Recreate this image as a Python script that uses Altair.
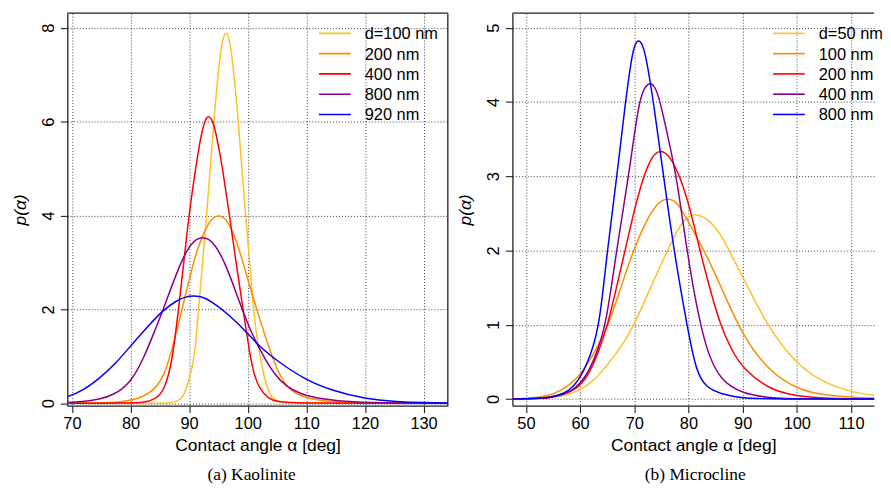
import altair as alt
import pandas as pd

# ---------------- Kaolinite (panel a) ----------------
kao_labels = ["d=100 nm", "200 nm", "400 nm", "800 nm", "920 nm"]
kao_colors = ["#FFC125", "#FF8C00", "#FF0000", "#8B008B", "#0000FF"]

kao_100_x = [69, 85, 87, 88, 89, 89.6, 90.3, 91.0, 91.6, 92.3, 93.0, 93.6, 94.2, 95.0, 95.6, 95.9, 96.3,
             96.7, 97.0, 97.6, 98.4, 99.0, 99.66, 100.3, 101.0, 101.5, 102.1, 103.2, 104.2, 105.5, 107, 134.5]
kao_100_y = [0, 0, 0.01, 0.04, 0.13, 0.35, 0.64, 1.05, 2.0, 3.0, 4.0, 5.0, 6.0, 7.1, 7.67, 7.83, 7.9,
             7.83, 7.67, 7.1, 6.0, 5.0, 4.0, 3.0, 2.0, 1.45, 1.0, 0.33, 0.1, 0.02, 0.0, 0]

kao_200_x = [69, 72, 76, 79, 81.4, 83, 84.5, 85.7, 86.8, 88.8, 90.7, 92.0, 93.5, 94.3, 95.0, 95.7, 96.5,
             98.0, 99.2, 101.5, 104.1, 105.3, 106.6, 108.3, 110.3, 115, 120, 134.5]
kao_200_y = [0.0, 0.003, 0.01, 0.04, 0.1, 0.2, 0.35, 0.6, 1.0, 2.0, 3.0, 3.5, 3.88, 3.97, 4.0, 3.97, 3.9,
             3.5, 3.0, 2.0, 1.0, 0.65, 0.35, 0.2, 0.1, 0.02, 0.0, 0]

kao_400_x = [69, 80, 82.5, 84, 85, 85.7, 86.5, 87.2, 88.2, 89.1, 89.95, 91.1, 92.0, 92.66, 92.9, 93.3,
             93.7, 94.13, 95.0, 95.7, 96.9, 98.0, 99.2, 100.4, 101.2, 102.1, 103.5, 105, 108, 134.5]
kao_400_y = [0, 0, 0.02, 0.08, 0.18, 0.3, 0.6, 1.0, 2.0, 3.0, 4.0, 5.0, 5.7, 6.0, 6.07, 6.12,
             6.07, 6.0, 5.5, 5.0, 4.0, 3.0, 2.0, 1.0, 0.55, 0.3, 0.1, 0.03, 0.0, 0]

kao_800_x = [68, 72, 74.7, 77, 80, 82.4, 84, 85.6, 88.5, 90.3, 91.3, 92.3, 93.3, 94.3, 96.2, 99.0, 101,
             102.7, 104.5, 106.6, 109, 112, 118, 125, 134.5]
kao_800_y = [0.01, 0.03, 0.085, 0.17, 0.42, 1.0, 1.5, 2.0, 3.0, 3.4, 3.5, 3.54, 3.5, 3.4, 3.0, 2.0, 1.4,
             1.0, 0.62, 0.35, 0.2, 0.1, 0.02, 0.005, 0]

kao_920_x = [68, 69.2, 72, 74.7, 77.5, 80, 82.7, 85.4, 88, 89.4, 90.7, 92.1, 93.5, 96.7, 100.1, 101.8,
             105.2, 110, 114.2, 120, 125.5, 130, 134.5]
kao_920_y = [0.11, 0.13, 0.28, 0.53, 0.85, 1.22, 1.6, 1.97, 2.2, 2.27, 2.29, 2.27, 2.2, 1.9, 1.48, 1.23,
             0.88, 0.49, 0.28, 0.09, 0.03, 0.012, 0.005]

kao_xticks = [70, 80, 90, 100, 110, 120, 130]
kao_yticks = [0, 2, 4, 6, 8]

# ---------------- Microcline (panel b) ----------------
mic_labels = ["d=50 nm", "100 nm", "200 nm", "400 nm", "800 nm"]
mic_colors = ["#FFC125", "#FF8C00", "#FF0000", "#8B008B", "#0000FF"]

mic_50_x = [47, 52, 56.5, 59.6, 62.7, 65.7, 68, 70.0, 73, 76.1, 78.5, 79.9, 81.2, 82.6, 84, 85.15, 86.4,
            87.2, 90.07, 95, 99.9, 104.1, 110.2, 117]
mic_50_y = [0.0, 0.008, 0.03, 0.1, 0.25, 0.52, 0.75, 1.0, 1.5, 2.0, 2.35, 2.46, 2.49, 2.46, 2.39, 2.29, 2.16,
            2.04, 1.64, 0.92, 0.48, 0.25, 0.08, 0.025]

mic_100_x = [47, 50, 53.5, 56.5, 59.9, 62.5, 65.3, 67.5, 69.8, 72.5, 74.4, 76.2, 78.0, 79.5, 82.9, 85.8,
             90.07, 95, 99.9, 104.1, 110.2, 117]
mic_100_y = [0, 0.005, 0.03, 0.1, 0.3, 0.6, 1.0, 1.5, 2.0, 2.45, 2.65, 2.71, 2.65, 2.45, 2.0, 1.55,
             0.83, 0.37, 0.14, 0.06, 0.02, 0.008]

mic_200_x = [47, 52, 55, 59, 61.45, 63.5, 65.1, 66.7, 68.3, 70, 71.7, 73.3, 74.9, 76.6, 78.4, 80.2,
             82.1, 83.9, 85.8, 88, 90.07, 95, 100, 105, 110, 117]
mic_200_y = [0, 0.01, 0.03, 0.1, 0.3, 0.65, 1.0, 1.5, 2.0, 2.55, 3.0, 3.28, 3.36, 3.27, 3.0, 2.6,
             2.0, 1.5, 1.01, 0.65, 0.41, 0.12, 0.04, 0.01, 0, 0]

mic_400_x = [47, 52, 55, 58.7, 61.1, 63, 64.8, 66.7, 68.97, 70.8, 71.9, 72.94, 73.9, 74.8, 76.3, 77.8,
             79.7, 81.5, 83.3, 85.8, 90, 95, 100, 117]
mic_400_y = [0, 0.005, 0.02, 0.1, 0.3, 0.6, 1.0, 2.0, 3.0, 4.0, 4.2, 4.27, 4.2, 4.0, 3.5, 3.0,
             2.0, 1.24, 0.66, 0.25, 0.07, 0.015, 0, 0]

mic_800_x = [47, 52, 54.7, 58.1, 60.2, 62, 63.6, 65.0, 66.8, 68.35, 69.5, 70.1, 70.8, 71.5, 72.2, 73.55,
             75.4, 77.3, 79.7, 81.5, 83.3, 85.8, 90, 95, 117]
mic_800_y = [0, 0.005, 0.02, 0.1, 0.3, 0.6, 1.0, 2.0, 3.0, 4.0, 4.6, 4.78, 4.84, 4.78, 4.6, 4.0,
             3.0, 2.0, 1.0, 0.34, 0.16, 0.07, 0.01, 0, 0]

mic_xticks = [50, 60, 70, 80, 90, 100, 110]
mic_yticks = [0, 1, 2, 3, 4, 5]

FONT = "Liberation Sans"
SERIF = "Liberation Serif"
H = 395


def long_df(labels, xs, ys):
    rows = []
    for i, (lab, xx, yy) in enumerate(zip(labels, xs, ys)):
        for a, p in zip(xx, yy):
            rows.append({"series": lab, "angle": a, "p": p, "k": i})
    return pd.DataFrame(rows)


def panel(df, labels, colors, xdom, ydom, xticks, yticks, W, caption, cap_dx, lx, right_border):
    cscale = alt.Scale(domain=labels, range=colors)
    lines = alt.Chart(df).mark_line(strokeWidth=1.5, clip=True, interpolate="basis").encode(
        x=alt.X("angle:Q",
                scale=alt.Scale(domain=xdom, nice=False, zero=False),
                axis=alt.Axis(values=xticks, title="Contact angle α [deg]", grid=True)),
        y=alt.Y("p:Q",
                scale=alt.Scale(domain=ydom, nice=False, zero=False),
                axis=alt.Axis(values=yticks, title="p(α)", grid=True, labelAngle=270,
                              labelAlign="center", labelBaseline="bottom",
                              titleFontStyle="italic")),
        color=alt.Color("series:N", scale=cscale, legend=None),
        order=alt.Order("k:Q"),
    )
    # legend built from the series labels (row index -> vertical slot)
    leg_df = pd.DataFrame({"series": labels, "row": list(range(len(labels)))})
    row_scale = alt.Scale(domain=[-0.995, H / 20.4 - 0.995], reverse=True, nice=False, zero=False)
    leg_lines = alt.Chart(leg_df).mark_rule(strokeWidth=1.6).encode(
        x=alt.value(lx), x2=alt.value(lx + 32),
        y=alt.Y("row:Q", scale=row_scale, axis=None),
        color=alt.Color("series:N", scale=cscale, legend=None),
    )
    leg_text = alt.Chart(leg_df).mark_text(align="left", baseline="middle", font=FONT,
                                           fontSize=16.5, color="black", dy=1).encode(
        x=alt.value(lx + 46),
        y=alt.Y("row:Q", scale=row_scale, axis=None),
        text="series:N",
    )
    one = pd.DataFrame({"z": [0]})
    top = alt.Chart(one).mark_rule(color="#222", strokeWidth=1.3).encode(
        x=alt.value(0), x2=alt.value(W), y=alt.value(0))
    layers = [lines, top]
    if right_border:
        right = alt.Chart(one).mark_rule(color="#222", strokeWidth=1.3).encode(
            x=alt.value(W), y=alt.value(0), y2=alt.value(H))
        layers.append(right)
    main = alt.layer(*layers)
    legend = alt.layer(leg_lines, leg_text)
    return alt.layer(main, legend).resolve_scale(y="independent").properties(
        width=W, height=H,
        title=alt.TitleParams(caption, orient="bottom", font=SERIF, fontSize=17.5,
                              fontWeight="normal", color="black", anchor="middle",
                              offset=12, dx=cap_dx),
    )


kao_df = long_df(kao_labels,
                 [kao_100_x, kao_200_x, kao_400_x, kao_800_x, kao_920_x],
                 [kao_100_y, kao_200_y, kao_400_y, kao_800_y, kao_920_y])
mic_df = long_df(mic_labels,
                 [mic_50_x, mic_100_x, mic_200_x, mic_400_x, mic_800_x],
                 [mic_50_y, mic_100_y, mic_200_y, mic_400_y, mic_800_y])

left = panel(kao_df, kao_labels, kao_colors, [69.22, 134.14], [-0.051, 8.309],
             kao_xticks, kao_yticks, 383, "(a) Kaolinite", -6, 253.3, True)
right = panel(mic_df, mic_labels, mic_colors, [47.5, 114.26], [-0.0896, 5.195],
              mic_xticks, mic_yticks, 364, "(b) Microcline", 2, 262.3, False)

chart = alt.hconcat(left, right, spacing=8).resolve_scale(color="independent").properties(
    padding={"left": 3.7, "top": 2.7, "right": 0, "bottom": 0}
).configure_view(stroke=None).configure_axis(
    labelFont=FONT, labelFontSize=16.5, labelColor="black",
    titleFont=FONT, titleFontSize=17.5, titleColor="black", titleFontWeight="normal",
    domainColor="#222", domainWidth=1.3, tickColor="#222", tickSize=7, tickWidth=1.1,
    gridColor="#000", gridDash=[1, 2], gridWidth=1, gridOpacity=0.75,
).configure_axisY(labelPadding=4, titlePadding=11).configure_axisX(labelPadding=3, titlePadding=5)

chart.save("out.html", embed_options={"renderer": "svg", "actions": False})
